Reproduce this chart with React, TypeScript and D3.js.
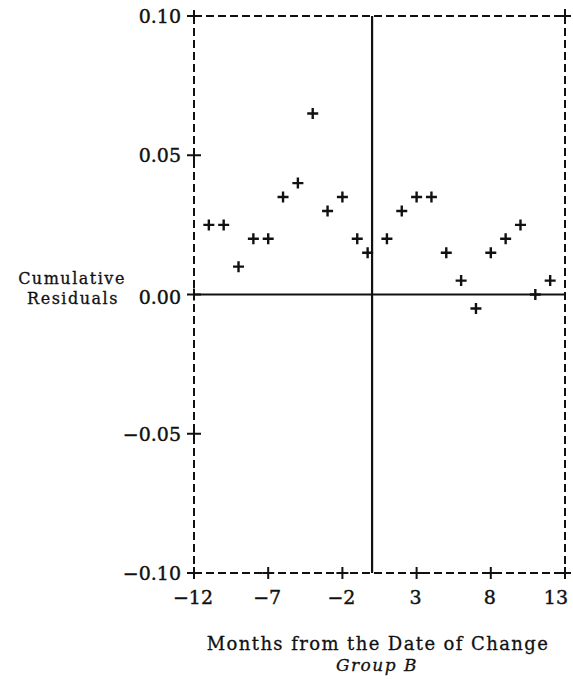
import * as d3 from 'd3';

const months = [-11, -10, -9, -8, -7, -6, -5, -4, -3, -2, -1, -0.3, 1, 2, 3, 4, 5, 6, 7, 8, 9, 10, 11, 12];
const residuals = [
  0.025, 0.025, 0.01, 0.02, 0.02, 0.035, 0.04, 0.065, 0.03, 0.035, 0.02, 0.015,
  0.02, 0.03, 0.035, 0.035, 0.015, 0.005, -0.005, 0.015, 0.02, 0.025, 0.0, 0.005,
];
const xTicks = [-12, -7, -2, 3, 8, 13];
const yTicks = [0.1, 0.05, 0, -0.05, -0.1];

const fmtX = (v: number) => (v < 0 ? '\u2212' + Math.abs(v) : String(v));
const fmtY = (v: number) => (v < 0 ? '\u2212' : '') + Math.abs(v).toFixed(2);

export default function App() {
  const width = 573;
  const height = 681;
  const x = d3.scaleLinear().domain([-12, 13]).range([194, 565]);
  const y = d3.scaleLinear().domain([-0.1, 0.1]).range([573, 16]);

  const font = "'DejaVu Serif', serif";
  const ink = '#111';
  const arm = 5.5;

  const cross = (cx: number, cy: number, h: number, v: number) =>
    `M${cx - h},${cy}H${cx + h}M${cx},${cy - v}V${cy + v}`;

  const [x0, x1] = x.range();
  const [yb, yt] = y.range();

  return (
    <svg width={width} height={height} style={{ position: 'absolute', left: 0, top: 0, background: '#fff' }}>
      {/* frame: dashed box */}
      <g stroke={ink} strokeWidth={2} strokeDasharray="8,4" fill="none">
        <line x1={x0} x2={x1} y1={yt} y2={yt} />
        <line x1={x0} x2={x1} y1={yb} y2={yb} />
        <line x1={x0} x2={x0} y1={yt} y2={yb} />
        <line x1={x1} x2={x1} y1={yt} y2={yb} />
      </g>

      {/* reference lines at zero */}
      <g stroke={ink} strokeWidth={2.2}>
        <line x1={x0} x2={x1} y1={y(0)} y2={y(0)} />
        <line x1={x(0)} x2={x(0)} y1={yt} y2={yb} />
      </g>

      {/* y ticks */}
      <g stroke={ink} strokeWidth={2} fill="none">
        {yTicks.map(t => (
          <path key={t} d={cross(x0, y(t), 7, 6)} />
        ))}
        <path d={cross(x1, yt, 6, 7)} />
      </g>
      <g fontFamily={font} fontSize={19} fill={ink} stroke={ink} strokeWidth={0.4} textAnchor="end">
        {yTicks.map(t => (
          <text key={t} x={x0 - 13} y={y(t) + (t === 0 ? 9 : 7)}>
            {fmtY(t)}
          </text>
        ))}
      </g>

      {/* x ticks */}
      <g stroke={ink} strokeWidth={2} fill="none">
        {xTicks.map(t => (
          <path key={t} d={cross(x(t), yb, 6, 6)} />
        ))}
      </g>
      <g fontFamily={font} fontSize={19} fill={ink} stroke={ink} strokeWidth={0.4}>
        {xTicks.map((t, i) => {
          const last = i === xTicks.length - 1;
          return (
            <text key={t} x={last ? x(t) + 3 : x(t) - 1} y={604} textAnchor={last ? 'end' : 'middle'}>
              {fmtX(t)}
            </text>
          );
        })}
      </g>

      {/* data points */}
      <g stroke={ink} strokeWidth={2.4} fill="none">
        {months.map((m, i) => (
          <path key={i} d={cross(x(m), y(residuals[i]), arm, arm)} />
        ))}
      </g>

      {/* axis titles */}
      <g fontFamily={font} fontSize={16} fill={ink} stroke={ink} strokeWidth={0.3} textAnchor="middle" letterSpacing={1.5}>
        <text x={72} y={284}>Cumulative</text>
        <text x={73} y={304}>Residuals</text>
      </g>
      <text x={378} y={650} fontFamily={font} fontSize={18} fill={ink} stroke={ink} strokeWidth={0.3}
        textAnchor="middle" letterSpacing={1.4}>
        Months from the Date of Change
      </text>
      <text x={377} y={671} fontFamily={font} fontSize={17} fontStyle="italic" fill={ink} stroke={ink}
        strokeWidth={0.3} textAnchor="middle" letterSpacing={1.5}>
        Group B
      </text>
    </svg>
  );
}
